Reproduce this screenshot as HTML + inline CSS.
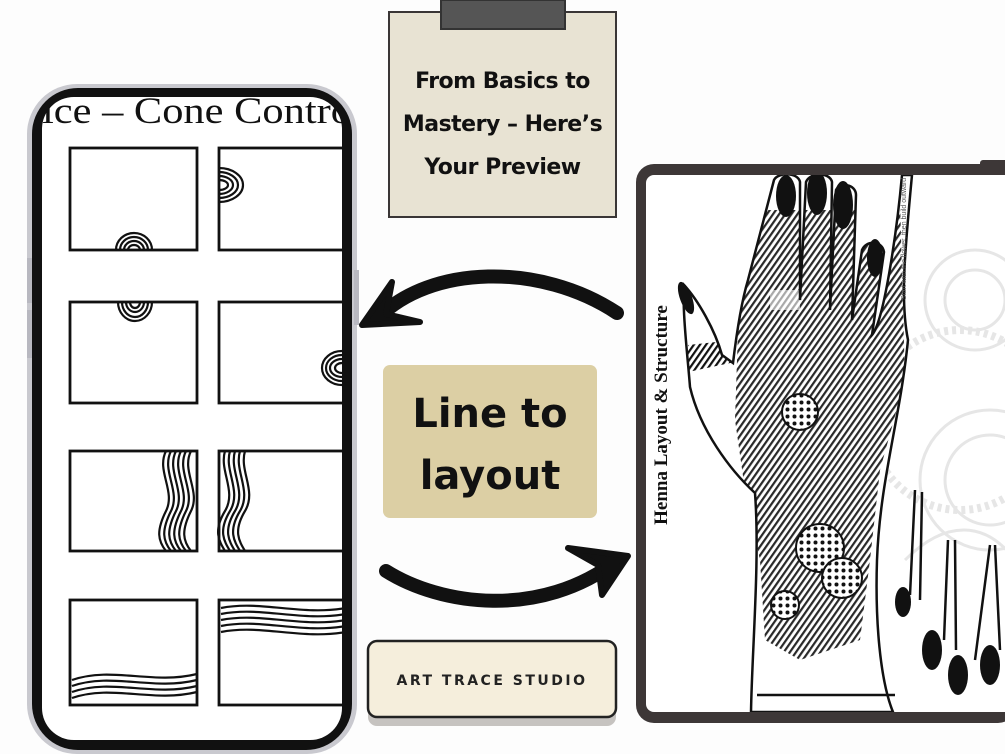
<!DOCTYPE html>
<html><head><meta charset="utf-8"><style>
body{margin:0;width:1005px;height:754px;overflow:hidden;background:#fdfdfd;position:relative;font-family:"Liberation Sans",sans-serif}
.abs{position:absolute}
</style></head><body>
<svg class="abs" style="left:0;top:0" width="1005" height="754" viewBox="0 0 1005 754">
<defs>
<pattern id="st" width="5" height="5" patternUnits="userSpaceOnUse" patternTransform="rotate(35)"><rect width="5" height="5" fill="#fff"/><rect width="2.2" height="5" fill="#111"/></pattern>
<pattern id="dt" width="7" height="7" patternUnits="userSpaceOnUse"><rect width="7" height="7" fill="#fff"/><circle cx="3.5" cy="3.5" r="2" fill="#111"/></pattern>
<clipPath id="scr"><rect x="42" y="97" width="300" height="643" rx="30"/></clipPath>
<clipPath id="tab"><rect x="646" y="175" width="359" height="537" rx="8"/></clipPath>
<clipPath id="hand"><path d="M751 712 C752 650 760 560 755 493 C730 470 700 430 690 387 C688 360 682 310 684 285 C698 300 715 330 722 355 L733 363 C737 330 742 300 748 280 L774 180 C778 172 798 172 800 182 L800 300 L806 182 C810 172 830 172 832 182 L830 310 L836 190 C840 182 856 184 856 195 L852 320 L862 250 C866 240 882 240 884 252 L872 335 C885 320 898 220 902 175 L912 175 C905 250 900 300 908 340 C900 420 880 480 877 560 C875 620 880 680 893 712 Z"/></clipPath>
</defs>
<!-- phone -->
<rect x="27" y="84" width="330" height="670" rx="50" fill="#c9c9cf"/>
<rect x="27" y="258" width="6" height="45" fill="#b8b8c0"/>
<rect x="27" y="310" width="6" height="48" fill="#b8b8c0"/>
<rect x="354" y="270" width="5" height="55" fill="#b8b8c0"/>
<rect x="32" y="88" width="320" height="662" rx="46" fill="#111"/>
<rect x="42" y="97" width="300" height="643" rx="32" fill="#fff"/>
<g clip-path="url(#scr)">
<text x="42" y="123" font-family="Liberation Serif,serif" font-size="37" fill="#111" textLength="310" lengthAdjust="spacingAndGlyphs">ice – Cone Contro</text>
<g fill="none" stroke="#111" stroke-width="2.8">
<rect x="70" y="148" width="127" height="102"/><rect x="219" y="148" width="130" height="102"/>
<rect x="70" y="302" width="127" height="101"/><rect x="219" y="302" width="130" height="101"/>
<rect x="70" y="451" width="127" height="100"/><rect x="219" y="451" width="130" height="100"/>
<rect x="70" y="600" width="127" height="105"/><rect x="219" y="600" width="130" height="105"/>
</g>
<g fill="none" stroke="#111" stroke-width="2.2">
<path d="M116 250 a18 17 0 0 1 36 0 M120 250 a14 13 0 0 1 28 0 M124 250 a10 9 0 0 1 20 0 M128 250 a6 5 0 0 1 12 0"/>
<path d="M118 302 a17 19 0 0 0 34 0 M122 302 a13 15 0 0 0 26 0 M126 302 a9 10 0 0 0 18 0 M130 302 a5 6 0 0 0 10 0"/>
<path d="M219 168 a24 17 0 0 1 0 34 M219 172 a19 13 0 0 1 0 26 M219 176 a14 9 0 0 1 0 18 M219 180 a9 5 0 0 1 0 10"/>
<path d="M342 351 a20 17 0 0 0 0 34 M342 355 a16 13 0 0 0 0 26 M342 359 a12 9 0 0 0 0 18 M342 363 a7 5 0 0 0 0 10"/>
<path d="M166 451 c-10 20 10 40 0 60 s-8 30 0 40 M171 451 c-10 20 10 40 0 60 s-8 30 0 40 M176 451 c-10 20 10 40 0 60 s-8 30 0 40 M181 451 c-10 20 10 40 0 60 s-8 30 0 40 M186 451 c-10 20 10 40 0 60 s-8 30 0 40 M191 451 c-10 20 10 40 0 60 s-8 30 0 40"/>
<path d="M225 451 c-6 20 12 40 0 60 s-6 30 0 40 M230 451 c-6 20 12 40 0 60 s-6 30 0 40 M235 451 c-6 20 12 40 0 60 s-6 30 0 40 M240 451 c-6 20 12 40 0 60 s-6 30 0 40 M245 451 c-6 20 12 40 0 60 s-6 30 0 40"/>
<path d="M72 680 c40 -14 80 5 125 -6 M72 686 c40 -14 80 5 125 -6 M72 692 c40 -14 80 5 125 -6 M72 698 c40 -14 80 5 125 -6"/>
<path d="M221 608 c40 -8 80 8 125 0 M221 614 c40 -8 80 8 125 0 M221 620 c40 -8 80 8 125 0 M221 626 c40 -8 80 8 125 0 M221 632 c40 -8 80 8 125 0"/>
</g>
</g>
<!-- clipboard note -->
<rect x="389" y="12" width="227" height="205" fill="#e8e3d3" stroke="#3a3636" stroke-width="2"/>
<rect x="441" y="0" width="124" height="29" fill="#555" stroke="#333" stroke-width="2"/>
<!-- arrows -->
<path d="M617 313 C540 262 430 265 378 318" fill="none" stroke="#111" stroke-width="14" stroke-linecap="round"/>
<path d="M362 325 L392 282 L386 314 L420 322 Z" fill="#111" stroke="#111" stroke-width="6" stroke-linejoin="round"/>
<path d="M386 571 C440 605 540 620 618 560" fill="none" stroke="#111" stroke-width="14" stroke-linecap="round"/>
<path d="M628 556 L568 548 L598 565 L602 595 Z" fill="#111" stroke="#111" stroke-width="6" stroke-linejoin="round"/>
<!-- line to layout -->
<rect x="383" y="365" width="214" height="153" rx="7" fill="#dccfa4"/>
<!-- art trace button -->
<rect x="368" y="648" width="248" height="78" rx="9" fill="#c6c3c0"/>
<rect x="368" y="641" width="248" height="76" rx="9" fill="#f5eedc" stroke="#222" stroke-width="2.5"/>
<!-- tablet -->
<rect x="636" y="164" width="380" height="559" rx="18" fill="#3d3737"/>
<rect x="980" y="160" width="30" height="8" rx="3" fill="#3d3737"/>
<rect x="646" y="175" width="370" height="537" rx="8" fill="#fff"/>
<g clip-path="url(#tab)">
<g fill="none" stroke="#e6e6e6" stroke-width="3">
<circle cx="975" cy="300" r="50"/><circle cx="975" cy="300" r="30"/><circle cx="990" cy="480" r="70"/><circle cx="990" cy="480" r="45"/><circle cx="960" cy="420" r="90" stroke-dasharray="4 4" stroke-width="8"/><path d="M905 560 c40 -40 80 -40 110 0"/>
</g>
<path d="M751 712 C752 650 760 560 755 493 C730 470 700 430 690 387 C688 360 682 310 684 285 C698 300 715 330 722 355 L733 363 C737 330 742 300 748 280 L774 180 C778 172 798 172 800 182 L800 300 L806 182 C810 172 830 172 832 182 L830 310 L836 190 C840 182 856 184 856 195 L852 320 L862 250 C866 240 882 240 884 252 L872 335 C885 320 898 220 902 175 L912 175 C905 250 900 300 908 340 C900 420 880 480 877 560 C875 620 880 680 893 712 Z" fill="#fff"/>
<g clip-path="url(#hand)">
<path d="M740 200 L900 200 L905 380 L880 470 L870 560 L860 640 L800 660 L765 640 L760 560 L745 490 L735 420 L738 330 Z" fill="url(#st)" opacity=".9"/>
<path d="M688 345 L735 340 L735 362 L688 372 Z" fill="url(#st)"/>
<rect x="760" y="170" width="160" height="40" fill="#fff"/>
<rect x="770" y="290" width="30" height="20" fill="#fff" opacity=".6"/>
</g>
<path d="M751 712 C752 650 760 560 755 493 C730 470 700 430 690 387 C688 360 682 310 684 285 C698 300 715 330 722 355 L733 363 C737 330 742 300 748 280 L774 180 C778 172 798 172 800 182 L800 300 L806 182 C810 172 830 172 832 182 L830 310 L836 190 C840 182 856 184 856 195 L852 320 L862 250 C866 240 882 240 884 252 L872 335 C885 320 898 220 902 175 L912 175 C905 250 900 300 908 340 C900 420 880 480 877 560 C875 620 880 680 893 712 Z" fill="none" stroke="#111" stroke-width="2.5"/>
<circle cx="820" cy="548" r="24" fill="url(#dt)" stroke="#111" stroke-width="2"/>
<circle cx="842" cy="578" r="20" fill="url(#dt)" stroke="#111" stroke-width="2"/>
<circle cx="800" cy="412" r="18" fill="url(#dt)" stroke="#111" stroke-width="2"/>
<circle cx="785" cy="605" r="14" fill="url(#dt)" stroke="#111" stroke-width="2"/>
<g fill="#111">
<ellipse cx="786" cy="196" rx="10" ry="21"/><ellipse cx="817" cy="193" rx="10" ry="22"/><ellipse cx="843" cy="205" rx="10" ry="24"/><ellipse cx="875" cy="258" rx="8" ry="19"/>
<ellipse cx="686" cy="298" rx="6" ry="17" transform="rotate(-20 686 298)"/>
<ellipse cx="903" cy="602" rx="8" ry="15"/><ellipse cx="932" cy="650" rx="10" ry="20"/><ellipse cx="958" cy="675" rx="10" ry="20"/><ellipse cx="990" cy="665" rx="10" ry="20"/>
</g>
<g fill="none" stroke="#111" stroke-width="2.5">
<path d="M910 595 L915 490 M922 492 L920 600 M944 640 L948 540 M955 540 L956 650 M975 660 L990 545 M995 545 L1000 650"/>
</g>
<line x1="757" y1="695" x2="895" y2="695" stroke="#111" stroke-width="2.5"/>
<text transform="translate(906 300) rotate(-90)" font-size="7" fill="#555">Start with the flower, then build outward</text>
</g>
</svg>
<div class="abs" style="left:389px;top:60px;width:227px;text-align:center;font-family:'DejaVu Sans',sans-serif;font-weight:bold;font-size:22px;line-height:43px;color:#111;letter-spacing:-0.5px">From Basics to<br>Mastery – Here’s<br>Your Preview</div>
<div class="abs" style="left:383px;top:383px;width:214px;text-align:center;font-family:'DejaVu Sans',sans-serif;font-weight:bold;font-size:40px;line-height:62px;color:#111">Line to<br>layout</div>
<div class="abs" style="left:368px;top:673px;width:248px;text-align:center;font-family:'DejaVu Sans',sans-serif;font-weight:bold;font-size:14px;letter-spacing:2.5px;color:#222">ART TRACE STUDIO</div>
<div class="abs" style="left:662px;top:415px;width:0;height:0"><div style="position:absolute;transform:translate(-50%,-50%) rotate(-90deg);white-space:nowrap;font-family:'Liberation Serif',serif;font-weight:bold;font-size:19px;color:#111">Henna Layout &amp; Structure</div></div>
</body></html>
